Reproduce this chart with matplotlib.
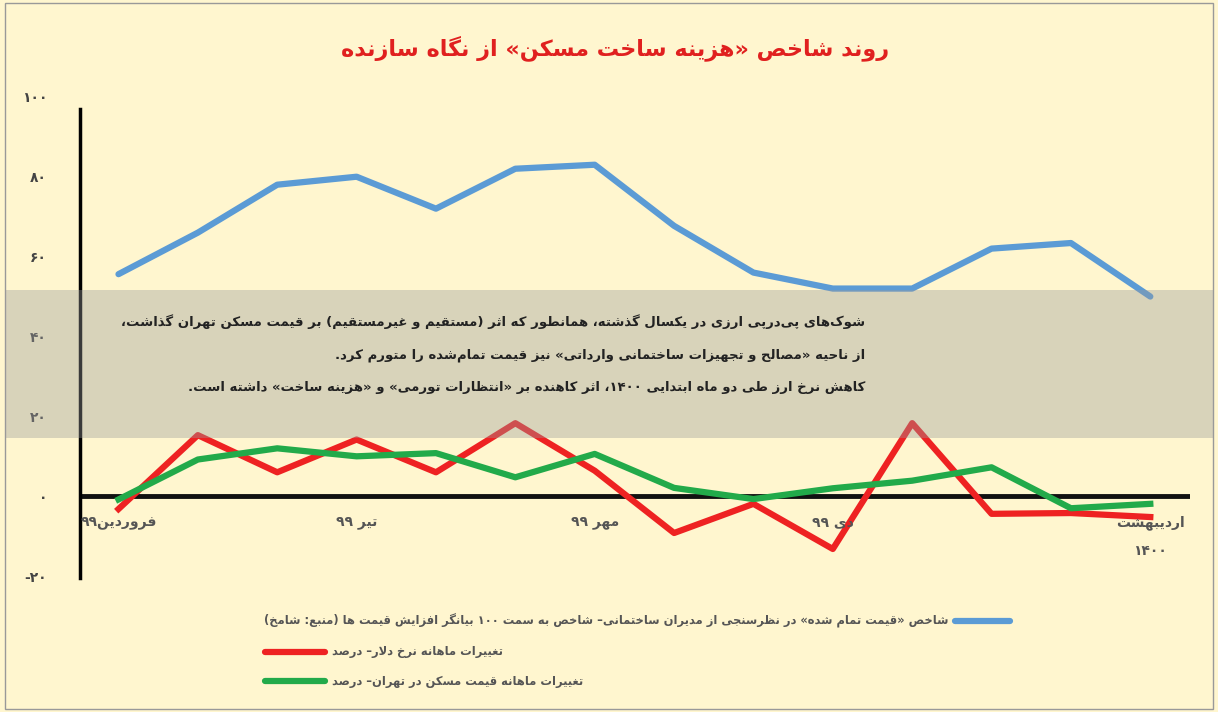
import re
import matplotlib
matplotlib.use("Agg")
import matplotlib.pyplot as plt
from matplotlib.patches import Rectangle
from matplotlib.lines import Line2D

# ---- data ----
x_idx = list(range(14))
blue = [55.6, 66, 78, 80, 72, 82, 83, 67.7, 56, 52, 52, 62, 63.4, 50]
red = [-3.2, 15.3, 6, 14.2, 6, 18.3, 6.4, -9.2, -1.9, -13.2, 18.3, -4.4, -4.2, -5.2]
green = [-0.8, 9.2, 12, 10, 10.8, 4.75, 10.6, 2.1, -0.7, 2, 3.9, 7.25, -3, -1.9]
xtick_pos = [0, 3, 6, 9, 13]
xtick_labels = ["فروردین۹۹", "تیر ۹۹", "مهر ۹۹", "دی ۹۹", "اردیبهشت\n۱۴۰۰"]
ytick_pos = [100, 80, 60, 40, 20, 0, -20]
ytick_labels = ["۱۰۰", "۸۰", "۶۰", "۴۰", "۲۰", "۰", "-۲۰"]
title = "روند شاخص «هزینه ساخت مسکن» از نگاه سازنده"
note = [
    "شوک‌های پی‌درپی ارزی در یکسال گذشته، همانطور که اثر (مستقیم و غیرمستقیم) بر قیمت مسکن تهران گذاشت،",
    "از ناحیه «مصالح و تجهیزات ساختمانی وارداتی» نیز قیمت تمام‌شده را متورم کرد.",
    "کاهش نرخ ارز طی دو ماه ابتدایی ۱۴۰۰، اثر کاهنده بر «انتظارات تورمی» و «هزینه ساخت» داشته است.",
]
leg_blue = "شاخص «قیمت تمام شده» در نظرسنجی از مدیران ساختمانی– شاخص به سمت ۱۰۰ بیانگر افزایش قیمت ها (منبع: شامخ)"
leg_red = "تغییرات ماهانه نرخ دلار– درصد"
leg_green = "تغییرات ماهانه قیمت مسکن در تهران– درصد"

# ---- tiny arabic/persian shaping, matplotlib does not do it ----
FORMS = {
    'ا': 'ﺍﺎ', 'آ': 'ﺁﺂ', 'أ': 'ﺃﺄ', 'د': 'ﺩﺪ', 'ذ': 'ﺫﺬ', 'ر': 'ﺭﺮ', 'ز': 'ﺯﺰ',
    'ژ': 'ﮊﮋ', 'و': 'ﻭﻮ',
    'ب': 'ﺏﺐﺑﺒ', 'پ': 'ﭖﭗﭘﭙ', 'ت': 'ﺕﺖﺗﺘ', 'ث': 'ﺙﺚﺛﺜ', 'ج': 'ﺝﺞﺟﺠ',
    'چ': 'ﭺﭻﭼﭽ', 'ح': 'ﺡﺢﺣﺤ', 'خ': 'ﺥﺦﺧﺨ', 'س': 'ﺱﺲﺳﺴ', 'ش': 'ﺵﺶﺷﺸ',
    'ص': 'ﺹﺺﺻﺼ', 'ض': 'ﺽﺾﺿﻀ', 'ط': 'ﻁﻂﻃﻄ', 'ظ': 'ﻅﻆﻇﻈ', 'ع': 'ﻉﻊﻋﻌ',
    'غ': 'ﻍﻎﻏﻐ', 'ف': 'ﻑﻒﻓﻔ', 'ق': 'ﻕﻖﻗﻘ', 'ک': 'ﮎﮏﮐﮑ', 'گ': 'ﮒﮓﮔﮕ',
    'ل': 'ﻝﻞﻟﻠ', 'م': 'ﻡﻢﻣﻤ', 'ن': 'ﻥﻦﻧﻨ', 'ه': 'ﻩﻪﻫﻬ', 'ی': 'ﯼﯽﯾﯿ',
    'ئ': 'ﺉﺊﺋﺌ',
}
LAMALEF = {'ا': 'ﻻﻼ', 'آ': 'ﻵﻶ'}
MIRROR = {'(': ')', ')': '(', '«': '»', '»': '«'}


def shape_line(s):
    out = []
    i = 0
    while i < len(s):
        c = s[i]
        if c not in FORMS:
            if c != '\u200c':
                out.append(c)
            i += 1
            continue
        prev = s[i - 1] if i > 0 else None
        pj = prev in FORMS and len(FORMS[prev]) == 4
        if c == 'ل' and i + 1 < len(s) and s[i + 1] in LAMALEF:
            out.append(LAMALEF[s[i + 1]][1 if pj else 0])
            i += 2
            continue
        nxt = s[i + 1] if i + 1 < len(s) else None
        nj = len(FORMS[c]) == 4 and nxt in FORMS
        f = FORMS[c]
        out.append(f[3] if pj and nj else f[1] if pj else f[2] if nj else f[0])
        i += 1
    vis = ''.join(MIRROR.get(ch, ch) for ch in reversed(out))
    return re.sub(r'[0-9۰-۹]+', lambda m: m.group(0)[::-1], vis)


def fa(s):
    return "\n".join(shape_line(l) for l in s.split("\n"))


plt.rcParams['font.family'] = ['DejaVu Sans']
plt.rcParams['font.weight'] = 'bold'

BG = "#fff6cf"
C_BLUE = "#5b9bd5"
C_RED = "#ee2222"
C_GREEN = "#22aa4a"

fig = plt.figure(figsize=(12.18, 7.12), dpi=100, facecolor=BG)
fig.patches.append(Rectangle((0.004, 0.004), 0.992, 0.992, transform=fig.transFigure,
                             fill=False, edgecolor="#999999", lw=1))
ax = fig.add_axes([0.066, 0.188, 0.911, 0.676])
ax.set_facecolor(BG)

ax.plot(x_idx, blue, color=C_BLUE, lw=4.5, solid_capstyle='round', zorder=3)
ax.plot(x_idx, red, color=C_RED, lw=4.5, zorder=3)
ax.plot(x_idx, green, color=C_GREEN, lw=4.5, zorder=4)
ax.axhline(0, color="#111111", lw=3.5, zorder=2)

ax.set_xlim(-0.48, 13.5)
ax.set_ylim(-20.5, 100)
for s in ["top", "right", "bottom"]:
    ax.spines[s].set_visible(False)
ax.spines["left"].set_linewidth(2.5)
ax.spines["left"].set_bounds(-20.5, 97)
ax.set_yticks(ytick_pos)
ax.set_yticklabels(ytick_labels, fontsize=10, color="#444444")
ax.tick_params(axis='y', length=0, pad=24)
ax.set_xticks([])
for p, t in zip(xtick_pos, xtick_labels):
    ax.text(p, -4.8, fa(t), ha='center', va='top', fontsize=10, color="#555555",
            linespacing=2.3)

# gray band with note
fig.patches.append(Rectangle((0.004, 1 - 438 / 712), 0.992, 148 / 712, transform=fig.transFigure,
                             facecolor="#9a9a9a", alpha=0.38, edgecolor='none', zorder=5))
for k, line in enumerate(note):
    fig.text(865 / 1218, 1 - (322 + 33 * k) / 712, fa(line), ha='right', va='center',
             fontsize=9.5, color="#222222", zorder=6)

fig.text(0.505, 1 - 48 / 712, fa(title), ha='center', va='center', fontsize=16,
         color="#e0201f")

# legend
def leg_line(x0, x1, y, c):
    fig.add_artist(Line2D([x0 / 1218, x1 / 1218], [1 - y / 712] * 2, color=c, lw=4.5,
                          transform=fig.transFigure, solid_capstyle='round'))

leg_line(955, 1010, 621, C_BLUE)
fig.text(948 / 1218, 1 - 621 / 712, fa(leg_blue), ha='right', va='center', fontsize=8.3, color="#555555")
leg_line(265, 325, 652, C_RED)
fig.text(332 / 1218, 1 - 652 / 712, fa(leg_red), ha='left', va='center', fontsize=8.3, color="#555555")
leg_line(265, 325, 681, C_GREEN)
fig.text(332 / 1218, 1 - 681 / 712, fa(leg_green), ha='left', va='center', fontsize=8.3, color="#555555")

fig.savefig("out.png", dpi=100, facecolor=BG)
